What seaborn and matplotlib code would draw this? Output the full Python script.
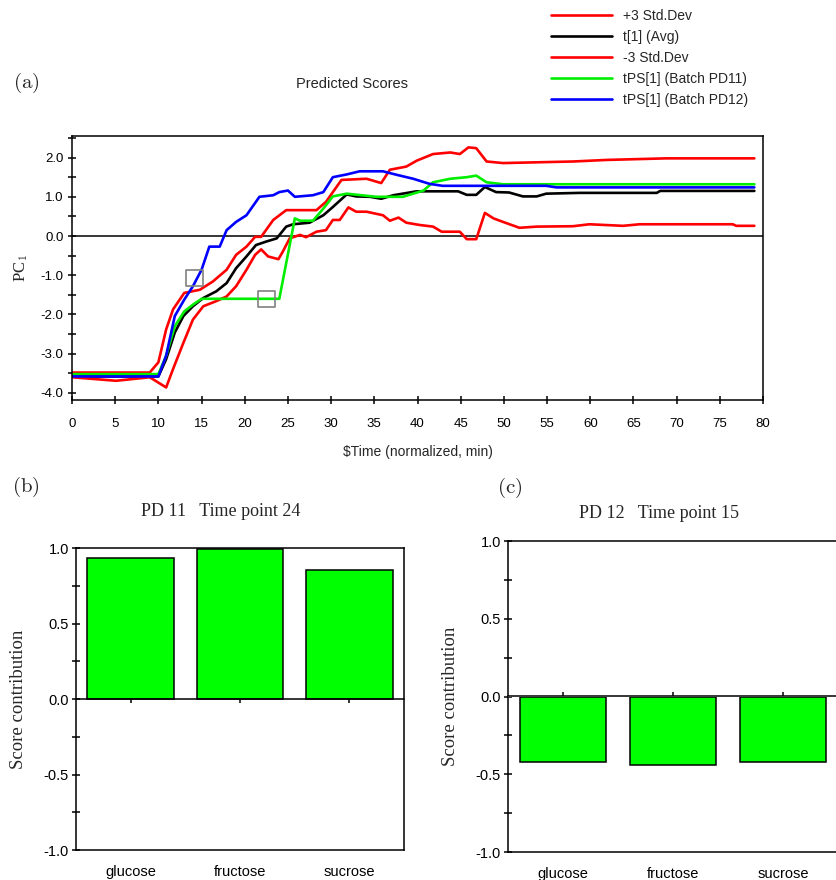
import numpy as np
import pandas as pd
import matplotlib
matplotlib.use("Agg")
import matplotlib.pyplot as plt
import seaborn as sns

# ---------------- data ----------------
# Predicted scores (PC1) against normalized time
t_plus = [0, 9, 10, 10.9, 11.7, 13, 14.8, 16.3, 17.9, 19, 20.2, 21.2, 21.9, 23.3, 24.8,
          28.3, 29.4, 31.2, 34.1, 35.8, 36.8, 38.7, 39.9, 41.8, 43.8, 44.9, 45.9, 46.8,
          48, 49.9, 58, 61.9, 68.8, 79]
v_plus = [-3.48, -3.48, -3.22, -2.38, -1.87, -1.45, -1.37, -1.16, -0.86, -0.48, -0.27,
          -0.02, -0.02, 0.41, 0.66, 0.66, 0.87, 1.43, 1.46, 1.35, 1.69, 1.77, 1.92, 2.09,
          2.13, 2.09, 2.26, 2.24, 1.90, 1.86, 1.90, 1.94, 1.98, 1.98]

t_avg = [0, 10, 10.9, 11.9, 12.9, 14, 15.2, 16.7, 17.9, 19, 20.2, 21.3, 22.5, 23.7, 24.8,
         25.6, 27.5, 29.1, 30.2, 31.8, 32.9, 34.5, 35.8, 37.2, 39.9, 44.7, 45.7, 46.8,
         47.8, 49.1, 50.6, 52.2, 53.8, 54.9, 58.8, 67.7, 68.1, 79]
v_avg = [-3.58, -3.58, -3.14, -2.46, -2.04, -1.79, -1.58, -1.41, -1.20, -0.82, -0.52,
         -0.23, -0.14, -0.06, 0.24, 0.30, 0.34, 0.53, 0.74, 1.06, 1.01, 1.00, 0.95, 1.04,
         1.14, 1.14, 1.05, 1.05, 1.25, 1.12, 1.11, 1.01, 1.01, 1.08, 1.10, 1.10, 1.15, 1.15]

t_minus = [0, 5.1, 9, 10.9, 11.7, 12.9, 14, 15.2, 16.7, 17.9, 19, 20.2, 21.2, 21.9, 22.7,
           23.9, 24.4, 25.2, 26.4, 27.1, 28.3, 29.4, 30.2, 31, 32, 32.9, 34.1, 36, 36.8,
           37.8, 38.7, 40.3, 41.8, 42.8, 44.9, 45.7, 46.8, 47.8, 48.8, 49.9, 51.8, 53.8,
           58, 59.9, 63.8, 65.7, 76.5, 76.9, 79]
v_minus = [-3.60, -3.69, -3.60, -3.86, -3.39, -2.72, -2.13, -1.79, -1.66, -1.54, -1.28,
           -0.86, -0.48, -0.34, -0.52, -0.59, -0.40, -0.06, 0.03, -0.03, 0.11, 0.15, 0.41,
           0.41, 0.73, 0.62, 0.62, 0.53, 0.39, 0.47, 0.34, 0.28, 0.24, 0.11, 0.11, -0.08,
           -0.08, 0.59, 0.45, 0.36, 0.21, 0.24, 0.25, 0.30, 0.26, 0.30, 0.30, 0.26, 0.26]

t_pd11 = [0, 10, 10.9, 11.9, 13, 14, 15, 24, 25.8, 26.4, 27.9, 29.1, 30.2, 31.8, 35.2,
          38.3, 39.5, 40.7, 41.8, 43.8, 45.7, 46.8, 48, 49.9, 79]
v_pd11 = [-3.52, -3.52, -3.05, -2.30, -1.92, -1.75, -1.60, -1.60, 0.45, 0.39, 0.39, 0.70,
          1.01, 1.08, 1.00, 1.00, 1.08, 1.16, 1.37, 1.46, 1.50, 1.54, 1.37, 1.32, 1.32]

t_pd12 = [0, 10, 10.9, 11.9, 13, 14, 15, 15.9, 17.1, 17.9, 19, 20.2, 21.7, 23.3, 24, 25,
          25.8, 27.9, 29.1, 30.2, 31.8, 33.3, 36, 37.6, 39.5, 41.4, 42.9, 54.9, 56.1, 79]
v_pd12 = [-3.58, -3.58, -3.05, -2.04, -1.62, -1.28, -0.86, -0.27, -0.27, 0.15, 0.36, 0.53,
          1.00, 1.04, 1.12, 1.16, 1.00, 1.04, 1.12, 1.50, 1.57, 1.65, 1.65, 1.56, 1.46,
          1.33, 1.28, 1.28, 1.24, 1.24]

# Inspected time points on the batch trajectories
mark_t = [14.2, 22.5]
mark_v = [-1.07, -1.60]

series_names = ["+3 Std.Dev", "t[1] (Avg)", "-3 Std.Dev",
                "tPS[1] (Batch PD11)", "tPS[1] (Batch PD12)"]
series_colors = ["#ff0000", "#000000", "#ff0000", "#00ee00", "#0000ff"]

# Score contributions of the sugars
sugars = ["glucose", "fructose", "sucrose"]
contrib_pd11 = [0.936, 0.993, 0.854]
contrib_pd12 = [-0.42, -0.44, -0.42]

# ---------------- style ----------------
sns.set_theme(style="ticks")
plt.rcParams["font.family"] = ["Liberation Sans", "DejaVu Sans"]
plt.rcParams["mathtext.fontset"] = "cm"
plt.rcParams["axes.linewidth"] = 1.1
plt.rcParams["axes.edgecolor"] = "black"

serif = ["Liberation Serif", "DejaVu Serif"]

fig = plt.figure(figsize=(8.36, 8.80), dpi=100)
W, H = 836.0, 880.0


def axes_px(left, top, right, bottom):
    return fig.add_axes([left / W, 1 - bottom / H, (right - left) / W, (bottom - top) / H])


# ---------------- (a) predicted scores ----------------
ax = axes_px(72, 136, 763, 400)
series = [(t_plus, v_plus), (t_avg, v_avg), (t_minus, v_minus),
          (t_pd11, v_pd11), (t_pd12, v_pd12)]
for (tt, vv), name, col in zip(series, series_names, series_colors):
    sns.lineplot(x=tt, y=vv, ax=ax, color=col, linewidth=1.9, label=name,
                 legend=False, sort=False, estimator=None)

ax.axhline(0, color="black", linewidth=1.1, zorder=1)
sns.scatterplot(x=mark_t, y=mark_v, ax=ax, marker="s", s=140, legend=False,
                facecolor="none", edgecolor="#808080", linewidth=1.2, zorder=5)
if ax.get_legend() is not None:
    ax.get_legend().remove()

ax.set_xlim(0, 80)
ax.set_ylim(-4.18, 2.55)
ax.set_xticks(np.arange(0, 81, 5))
ax.set_yticks(np.arange(-4, 2.1, 1))
ax.set_yticks(np.arange(-4, 2.6, 0.5), minor=True)
ax.set_yticklabels([f"{v:.1f}" for v in np.arange(-4, 2.1, 1)])
ax.tick_params(axis="both", which="both", direction="inout", length=6, width=1.1,
               colors="black", labelsize=9.5, pad=3)
ax.tick_params(axis="x", pad=10)
ax.set_xlabel(r"\$Time (normalized, min)", fontsize=10, labelpad=11)
ax.set_ylabel(r"PC$_1$", fontsize=12, family=serif, labelpad=8)
for s in ax.spines.values():
    s.set_visible(True)
    s.set_linewidth(1.1)

handles = ax.get_lines()[:5]
fig.legend(handles=handles, labels=series_names, loc="upper left",
           bbox_to_anchor=(551 / W, 1 - 9 / H), frameon=False, borderpad=0,
           borderaxespad=0, handlelength=4.4, handletextpad=0.75, labelspacing=0.5,
           prop={"size": 10})

fig.text(352 / W, 1 - 84 / H, "Predicted Scores", ha="center", va="center",
         fontsize=10.5)
fig.text(26 / W, 1 - 83 / H, r"$\mathrm{(a)}$", ha="center", va="center", fontsize=15)
fig.text(26 / W, 1 - 487 / H, r"$\mathrm{(b)}$", ha="center", va="center", fontsize=15)
fig.text(510 / W, 1 - 488 / H, r"$\mathrm{(c)}$", ha="center", va="center", fontsize=15)


# ---------------- (b), (c) score contributions ----------------
def contribution_panel(ax, values, title, title_xy, zero_tick_dir):
    df = pd.DataFrame({"sugar": sugars, "value": values})
    sns.barplot(data=df, x="sugar", y="value", ax=ax, color="#00ff00",
                saturation=1, width=0.79, edgecolor="black", linewidth=1.1)
    ax.set_xlim(-0.5, 2.5)
    ax.set_ylim(-1.0, 1.0)
    ax.set_yticks([-1.0, -0.5, 0.0, 0.5, 1.0])
    ax.set_yticks(np.arange(-1.0, 1.01, 0.25), minor=True)
    ax.set_yticklabels(["-1.0", "-0.5", "0.0", "0.5", "1.0"])
    ax.tick_params(axis="y", which="both", direction="inout", length=6, width=1.1,
                   colors="black", labelsize=10.5, pad=2)
    ax.tick_params(axis="x", length=0, labelsize=10.5, pad=11, colors="black")
    ax.set_xlabel("")
    ax.set_ylabel("Score contribution", fontsize=13.5, family=serif, labelpad=12)
    fig.text(title_xy[0] / W, 1 - title_xy[1] / H, title, ha="center", va="center",
             fontsize=13, family=serif)
    for s in ax.spines.values():
        s.set_visible(True)
        s.set_linewidth(1.1)
    # zero line with small category ticks
    zero = ax.secondary_xaxis(0.5)
    zero.set_zorder(10)
    zero.set_xticks([0, 1, 2])
    zero.set_xticklabels(["", "", ""])
    zero.tick_params(axis="x", which="major", direction=zero_tick_dir, length=3,
                     width=1.1, colors="black", labelbottom=False, labeltop=False)
    zero.spines["bottom"].set_linewidth(1.1)


ax_b = axes_px(76, 548, 404, 850)
contribution_panel(ax_b, contrib_pd11, "PD 11   Time point 24", (221, 512), "in")

ax_c = axes_px(508, 541, 838, 852)
contribution_panel(ax_c, contrib_pd12, "PD 12   Time point 15", (659, 513), "out")

fig.savefig("out.png", dpi=100)
